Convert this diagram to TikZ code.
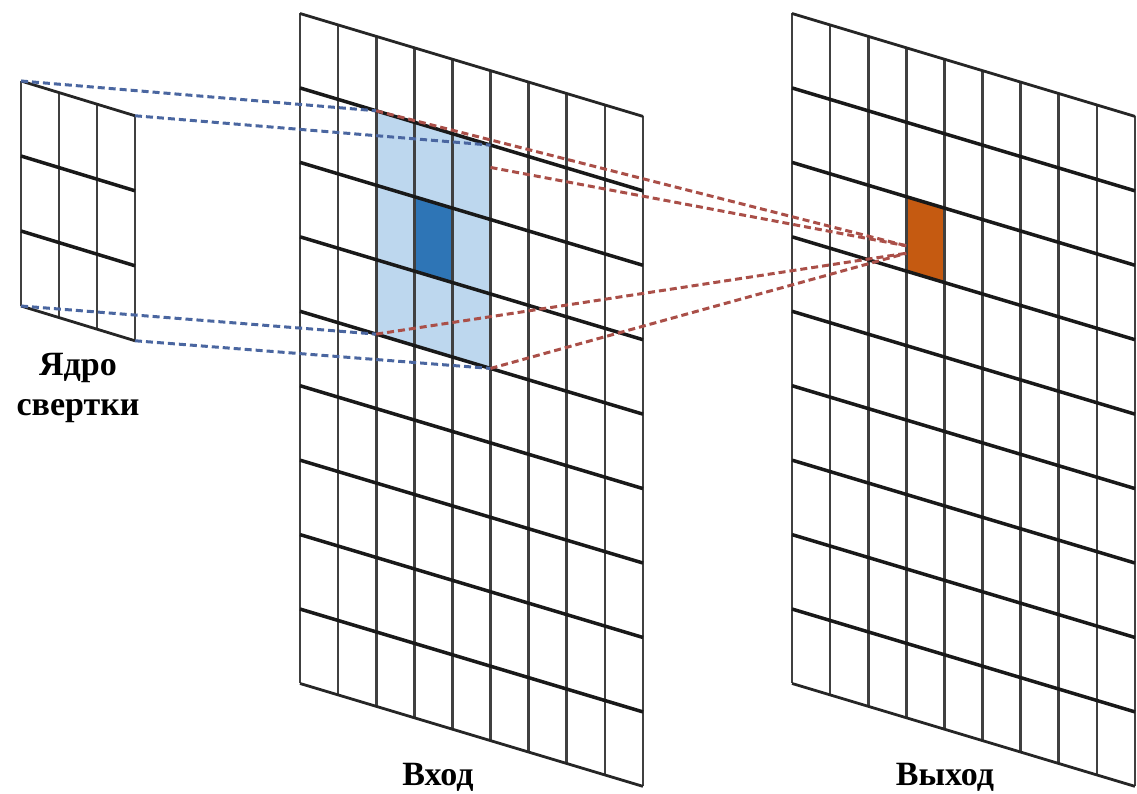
\documentclass[tikz,border=0pt]{standalone}
\usepackage{fontspec}
\setmainfont{Liberation Serif}
\usetikzlibrary{calc}

\definecolor{winblue}{HTML}{BDD7EE}
\definecolor{centblue}{HTML}{2E75B6}
\definecolor{outorange}{HTML}{C55A11}
\definecolor{dashblue}{HTML}{4A66A0}
\definecolor{dashred}{HTML}{AA4F48}

\tikzset{
  vline/.style={line width=2.6pt, draw=black!75},
  hline/.style={line width=3.5pt, draw=black!90},
  rimline/.style={line width=2.8pt, draw=black!85},
  bluelink/.style={dash pattern=on 7pt off 4pt, line width=3pt, draw=dashblue},
  redlink/.style={dash pattern=on 7pt off 4pt, line width=3pt, draw=dashred},
  caption/.style={font=\bfseries\fontsize{34}{40}\selectfont, inner sep=0pt, anchor=base},
}

% corner coordinates of a slanted grid:
% #1 name, #2/#3 top-left corner, #4 columns, #5 rows, #6 cell width, #7 cell height, #8 slope
\newcommand\defskewgrid[8]{%
  \foreach \i in {0,...,#4}{%
    \foreach \j in {0,...,#5}{%
      \coordinate (#1-\i-\j) at ({#2+\i*#6},{#3+\j*#7+#8*\i*#6});
    }%
  }%
}
% grid lines: #1 name, #2 columns, #3 rows
\newcommand\drawskewgrid[3]{%
  \foreach \i in {0,...,#2}{\draw[vline] (#1-\i-0) -- (#1-\i-#3);}%
  \pgfmathtruncatemacro\lastinner{#3-1}%
  \foreach \j in {1,...,\lastinner}{\draw[hline] (#1-0-\j) -- (#1-#2-\j);}%
  \draw[rimline] (#1-0-0) -- (#1-#2-0);
  \draw[rimline] (#1-0-#3) -- (#1-#2-#3);
}

\begin{document}
\begin{tikzpicture}[x=1pt, y=-1pt]
  \useasboundingbox (0,0) rectangle (1137,794);

  % grids: kernel, input, output
  \defskewgrid{k}{21}{81}{3}{3}{38}{75}{0.305}
  \defskewgrid{in}{300}{13.5}{9}{9}{38.11}{74.44}{0.3}
  \defskewgrid{out}{792}{13.5}{9}{9}{38.11}{74.44}{0.3}

  % receptive field and its centre, output cell
  \fill[winblue] (in-2-1) -- (in-5-1) -- (in-5-4) -- (in-2-4) -- cycle;
  \fill[centblue] (in-3-2) -- (in-4-2) -- (in-4-3) -- (in-3-3) -- cycle;
  \fill[outorange] (out-3-2) -- (out-4-2) -- (out-4-3) -- (out-3-3) -- cycle;

  \drawskewgrid{k}{3}{3}
  \drawskewgrid{in}{9}{9}
  \drawskewgrid{out}{9}{9}

  % end points of the projection lines
  \coordinate (win-r) at ($(in-5-1)!0.1!(in-5-4)$);
  \coordinate (o-up) at ($(out-3-2)!0.66!(out-3-3)$);
  \coordinate (o-lo) at ($(out-3-2)!0.76!(out-3-3)$);

  % kernel -> receptive field
  \draw[bluelink] (k-0-0) -- (in-2-1);
  \draw[bluelink] (k-3-0) -- (in-5-1);
  \draw[bluelink] (k-0-3) -- (in-2-4);
  \draw[bluelink] (k-3-3) -- (in-5-4);

  % receptive field -> output cell
  \draw[redlink] (in-2-1) -- (o-up);
  \draw[redlink] (win-r) -- (o-up);
  \draw[redlink] (in-2-4) -- (o-lo);
  \draw[redlink] (in-5-4) -- (o-lo);

  % captions
  \node[caption] (kcap1) at (78,375) {Ядро};
  \node[caption] (kcap2) at (78,415) {свертки};
  \node[caption] (incap) at (438,785) {Вход};
  \node[caption] (outcap) at (945,785) {Выход};
\end{tikzpicture}
\end{document}
